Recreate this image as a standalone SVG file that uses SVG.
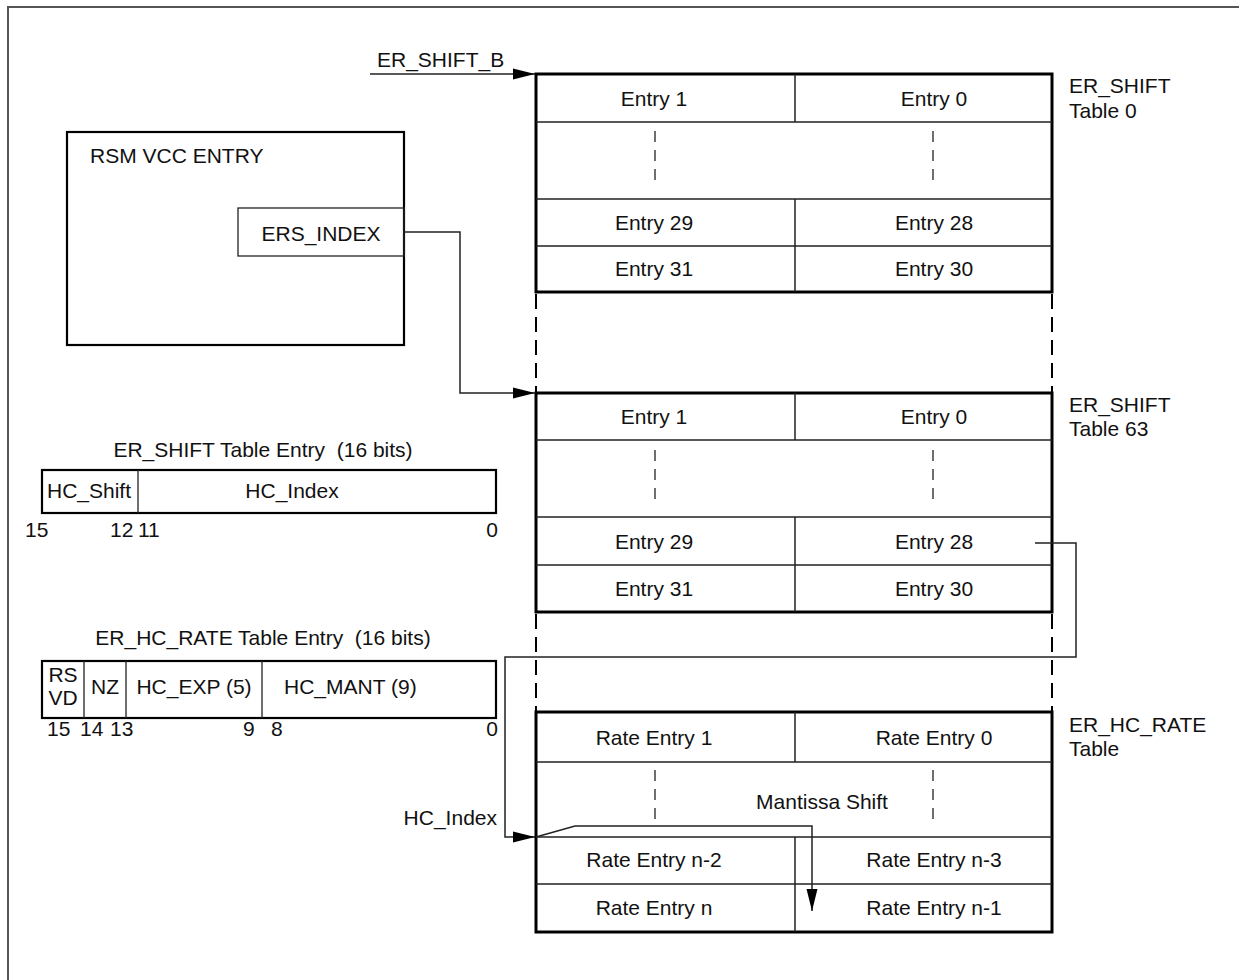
<svg xmlns="http://www.w3.org/2000/svg" width="1239" height="980" viewBox="0 0 1239 980">
<style>
text{font-family:"Liberation Sans",Arial,sans-serif;font-size:21px;fill:#111;white-space:pre}
.c{text-anchor:middle}
.e{text-anchor:end}
.outer{fill:none;stroke:#000;stroke-width:3}
.inner{fill:none;stroke:#222;stroke-width:1.5}
.dash{fill:none;stroke:#222;stroke-width:1.3;stroke-dasharray:11 8}
.gap{fill:none;stroke:#000;stroke-width:2;stroke-dasharray:15 8}
.box{fill:none;stroke:#000;stroke-width:2.2}
.thin{fill:none;stroke:#222;stroke-width:1.3}
.conn{fill:none;stroke:#222;stroke-width:1.5}
</style>
<defs>
<marker id="arr" markerUnits="userSpaceOnUse" markerWidth="22" markerHeight="12" refX="22" refY="6" orient="auto">
<path d="M0,0.5 L22,6 L0,11.5 z" fill="#000"/>
</marker>
</defs>
<rect x="0" y="0" width="1239" height="980" fill="#fff"/>
<rect x="8" y="7" width="1250" height="990" fill="none" stroke="#555" stroke-width="2"/>

<g id="rsm-vcc-entry">
<rect x="67" y="132" width="337" height="213" class="box" stroke-width="2.5"/>
<text x="90" y="163">RSM VCC ENTRY</text>
<rect x="238" y="208" width="166" height="48" class="thin"/>
<text x="321" y="241" class="c">ERS_INDEX</text>
</g>

<g id="er-shift-table-0">
<rect x="536" y="74" width="516" height="218" class="outer"/>
<path d="M536,122 H1052 M536,199 H1052 M536,246 H1052 M795,74 V122 M795,199 V292" class="inner"/>
<path d="M655,131 V186 M933,131 V186" class="dash"/>
<text x="654" y="106" class="c">Entry 1</text>
<text x="934" y="106" class="c">Entry 0</text>
<text x="654" y="230" class="c">Entry 29</text>
<text x="934" y="230" class="c">Entry 28</text>
<text x="654" y="276" class="c">Entry 31</text>
<text x="934" y="276" class="c">Entry 30</text>
<text x="1069" y="93">ER_SHIFT</text>
<text x="1069" y="118">Table 0</text>
</g>

<g id="er-shift-table-63">
<rect x="536" y="393" width="516" height="219" class="outer"/>
<path d="M536,440 H1052 M536,517 H1052 M536,565 H1052 M795,393 V440 M795,517 V612" class="inner"/>
<path d="M655,450 V505 M933,450 V505" class="dash"/>
<text x="654" y="424" class="c">Entry 1</text>
<text x="934" y="424" class="c">Entry 0</text>
<text x="654" y="549" class="c">Entry 29</text>
<text x="934" y="549" class="c">Entry 28</text>
<text x="654" y="596" class="c">Entry 31</text>
<text x="934" y="596" class="c">Entry 30</text>
<text x="1069" y="412">ER_SHIFT</text>
<text x="1069" y="436">Table 63</text>
</g>

<g id="er-hc-rate-table">
<rect x="536" y="712" width="516" height="220" class="outer"/>
<path d="M536,762 H1052 M536,837 H1052 M536,884 H1052 M795,712 V762 M795,837 V932" class="inner"/>
<path d="M655,770 V824 M933,770 V824" class="dash"/>
<text x="654" y="745" class="c">Rate Entry 1</text>
<text x="934" y="745" class="c">Rate Entry 0</text>
<text x="822" y="809" class="c">Mantissa Shift</text>
<text x="654" y="867" class="c">Rate Entry n-2</text>
<text x="934" y="867" class="c">Rate Entry n-3</text>
<text x="654" y="915" class="c">Rate Entry n</text>
<text x="934" y="915" class="c">Rate Entry n-1</text>
<text x="1069" y="732">ER_HC_RATE</text>
<text x="1069" y="756">Table</text>
</g>

<g id="table-continuation">
<path d="M536,294 V393 M1052,294 V393 M536,614 V712 M1052,614 V712" class="gap"/>
</g>

<g id="er-shift-entry-format">
<text x="263" y="457" class="c" xml:space="preserve">ER_SHIFT Table Entry  (16 bits)</text>
<rect x="42" y="470" width="454" height="43" class="box"/>
<path d="M138,470 V513" class="thin"/>
<text x="89" y="498" class="c">HC_Shift</text>
<text x="292" y="498" class="c">HC_Index</text>
<text x="25" y="537">15</text>
<text x="110" y="537">12</text>
<text x="138" y="537">11</text>
<text x="498" y="537" class="e">0</text>
</g>

<g id="er-hc-rate-entry-format">
<text x="263" y="645" class="c" xml:space="preserve">ER_HC_RATE Table Entry  (16 bits)</text>
<rect x="42" y="661" width="454" height="57" class="box"/>
<path d="M84,661 V718 M126,661 V718 M262,661 V718" class="thin"/>
<text x="63" y="682" class="c">RS</text>
<text x="63" y="705" class="c">VD</text>
<text x="105" y="694" class="c">NZ</text>
<text x="194" y="694" class="c">HC_EXP (5)</text>
<text x="284" y="694">HC_MANT (9)</text>
<text x="47" y="736">15</text>
<text x="80" y="736">14</text>
<text x="110" y="736">13</text>
<text x="243" y="736">9</text>
<text x="271" y="736">8</text>
<text x="498" y="736" class="e">0</text>
</g>

<g id="connectors">
<text x="377" y="67">ER_SHIFT_B</text>
<path d="M370,74 H535" class="conn" marker-end="url(#arr)"/>
<path d="M404,232 H460 V393 H535" class="conn" marker-end="url(#arr)"/>
<path d="M1035,543 H1076 V657 H505 V837 H535" class="conn" marker-end="url(#arr)"/>
<text x="497" y="825" class="e">HC_Index</text>
<path d="M536,837 L575,826 H812 V911" class="conn" marker-end="url(#arr)"/>
</g>
</svg>
